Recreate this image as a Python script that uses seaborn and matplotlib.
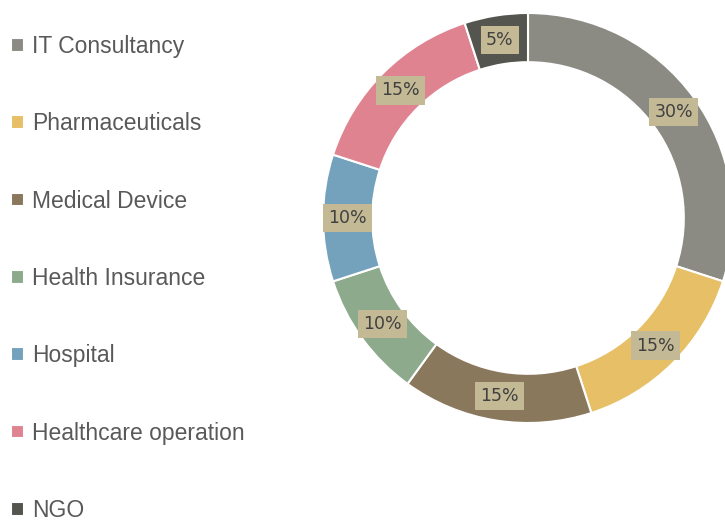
import matplotlib
matplotlib.use("Agg")
import matplotlib.pyplot as plt
import seaborn as sns
import numpy as np

# Chart data
sectors = ["IT Consultancy", "Pharmaceuticals", "Medical Device", "Health Insurance",
           "Hospital", "Healthcare operation", "NGO"]
shares = [30, 15, 15, 10, 10, 15, 5]
sector_colors = ["#8b8b84", "#e6bf66", "#8a785d", "#8dab8c", "#74a2bd", "#e08391", "#55554f"]

sns.set_theme(style="white")
plt.rcParams["font.family"] = ["Liberation Sans", "DejaVu Sans"]
palette = sns.color_palette(sector_colors)

fig = plt.figure(figsize=(7.25, 5.21), dpi=100)
W, H = 725, 521
cx, cy, r = 528, 218, 205
ax = fig.add_axes([(cx - r) / W, (H - cy - r) / H, 2 * r / W, 2 * r / H])

ring = 0.24
wedges, _ = ax.pie(shares, colors=palette, startangle=90, counterclock=False,
                   radius=1, wedgeprops=dict(width=ring, edgecolor="white", linewidth=1.5))
ax.set_xlim(-1, 1)
ax.set_ylim(-1, 1)
ax.set_aspect("equal")
ax.axis("off")

# percentage labels in the middle of the ring
for w, val in zip(wedges, shares):
    mid = np.deg2rad((w.theta1 + w.theta2) / 2)
    rr = 1 - ring / 2
    ax.text(rr * np.cos(mid), rr * np.sin(mid), f"{val}%", ha="center", va="center",
            fontsize=12.5, color="#404040", family=["DejaVu Sans"],
            bbox=dict(boxstyle="square,pad=0.3", facecolor="#c4b995", edgecolor="none"))

leg = fig.legend(wedges, sectors, loc="upper left", bbox_to_anchor=(11 / W, 1 - 35 / H),
                 frameon=False, fontsize=16.5, handlelength=0.55, handleheight=0.55,
                 handletextpad=0.38, labelspacing=2.37, borderaxespad=0, borderpad=0)
for t in leg.get_texts():
    t.set_color("#595959")

fig.savefig("out.png", dpi=100)
